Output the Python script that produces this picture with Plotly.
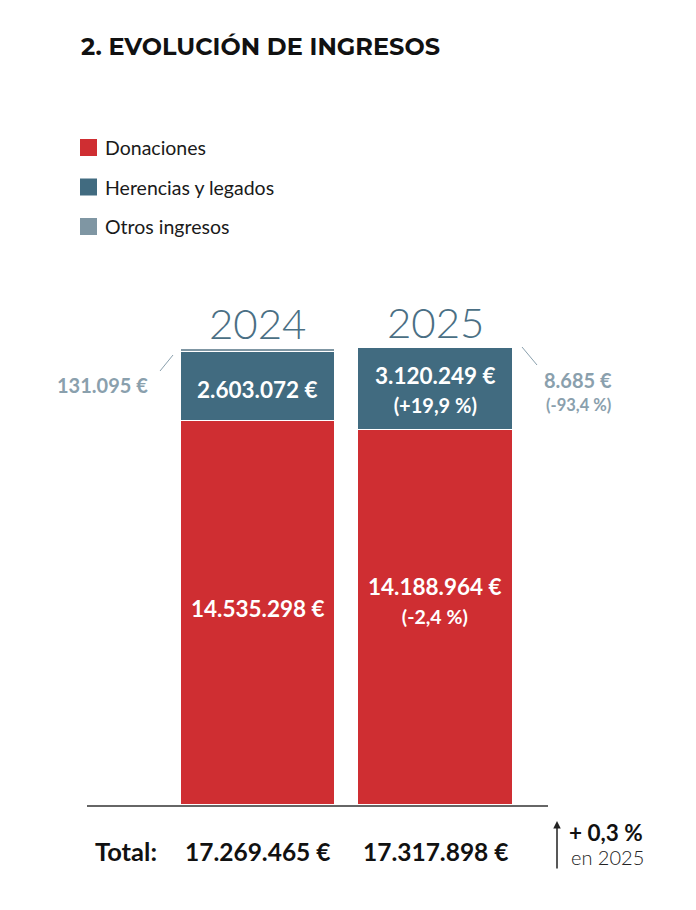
import plotly.graph_objects as go

years = ["2024", "2025"]
series_names = ["Donaciones", "Herencias y legados", "Otros ingresos"]
donaciones = [14535298, 14188964]
herencias = [2603072, 3120249]
otros = [131095, 8685]
colors = ["#cf2e32", "#416b80", "#7f96a3"]

totals = [d + h + o for d, h, o in zip(donaciones, herencias, otros)]


def fmt_eur(v):
    return f"{v:,.0f}".replace(",", ".") + " €"


def fmt_pct(a, b, sign=True):
    p = (b / a - 1) * 100
    s = f"{p:+.1f}" if sign else f"{p:.1f}"
    return s.replace(".", ",") + " %"


# page offset (body margin) and plot area in screen pixels
OFF = 8
FW, FH = 696 - 2 * OFF, 910 - 2 * OFF
L, R, T, B = 87, 548, 290, 805
W, H = R - L, B - T


def px(x):
    return (x - L) / W


def py(y):
    return (B - y) / H


FONT = "Source Sans Pro, Lato, Noto Sans, sans-serif"

fig = go.Figure()
for name, vals, col in zip(series_names, [donaciones, herencias, otros], colors):
    fig.add_trace(go.Bar(
        x=[0, 1], y=vals, name=name, marker=dict(color=col, line=dict(color="white", width=1)),
        width=0.868, showlegend=False, hoverinfo="skip",
    ))

ann = []


def A(**kw):
    kw.setdefault("showarrow", False)
    kw.setdefault("yanchor", "middle")
    kw.setdefault("xanchor", "center")
    ann.append(kw)


# inside labels
A(x=0, y=donaciones[0] / 2, xref="x", yref="y", text=f"<b>{fmt_eur(donaciones[0])}</b>",
  font=dict(size=22.5, color="white", family=FONT), yshift=5)
A(x=1, y=donaciones[1] / 2, xref="x", yref="y",
  text=f"<b>{fmt_eur(donaciones[1])}</b><br><span style='font-size:19.5px'><b>({fmt_pct(donaciones[0], donaciones[1], sign=False)})</b></span>",
  font=dict(size=22.5, color="white", family=FONT), yshift=17)
A(x=0, y=donaciones[0] + herencias[0] / 2, xref="x", yref="y", text=f"<b>{fmt_eur(herencias[0])}</b>",
  font=dict(size=22.5, color="white", family=FONT), yshift=-3)
A(x=1, y=donaciones[1] + herencias[1] / 2, xref="x", yref="y",
  text=f"<b>{fmt_eur(herencias[1])}</b><br><span style='font-size:20px'><b>({fmt_pct(herencias[0], herencias[1])})</b></span>",
  font=dict(size=22.5, color="white", family=FONT))
# year labels
for i in range(2):
    A(x=i, y=totals[i], xref="x", yref="y", text=years[i], yanchor="bottom",
      font=dict(size=42, color="#4a6f84", family=FONT, weight=300), yshift=-1)
# outside labels for otros
A(x=px(150), y=py(385), xref="paper", yref="paper", xanchor="right", text=f"<b>{fmt_eur(otros[0])}</b>",
  font=dict(size=20, color="#8aa0ad", family=FONT))
A(x=px(578), y=py(380), xref="paper", yref="paper", text=f"<b>{fmt_eur(otros[1])}</b>",
  font=dict(size=20, color="#8aa0ad", family=FONT))
A(x=px(578), y=py(405), xref="paper", yref="paper", text=f"<b>({fmt_pct(otros[0], otros[1], sign=False)})</b>",
  font=dict(size=16.5, color="#8aa0ad", family=FONT))
# title
A(x=px(79), y=py(47), xref="paper", yref="paper", xanchor="left", text="<b>2. EVOLUCIÓN DE INGRESOS</b>",
  font=dict(size=24, color="#111", family="Montserrat, Open Sans, sans-serif", weight=800))
# legend
shapes = []
for k, (name, col) in enumerate(zip(series_names, colors)):
    yc = 147.5 + k * 39.5
    shapes.append(dict(type="rect", xref="paper", yref="paper", x0=px(80), x1=px(97), y0=py(yc - 8.5), y1=py(yc + 8.5),
                       fillcolor=col, line=dict(width=0)))
    A(x=px(103), y=py(yc), xref="paper", yref="paper", xanchor="left", text=name,
      font=dict(size=19.5, color="#1a1a1a", family=FONT, weight=400))
# leader lines
shapes.append(dict(type="line", xref="paper", yref="paper", x0=px(160), y0=py(371), x1=px(173), y1=py(355),
                   line=dict(color="#8aa0ad", width=1)))
shapes.append(dict(type="line", xref="paper", yref="paper", x0=px(522), y0=py(347), x1=px(537), y1=py(365),
                   line=dict(color="#8aa0ad", width=1)))
# totals row
A(x=px(159), y=py(851), xref="paper", yref="paper", xanchor="right", text="<b>Total:</b>",
  font=dict(size=25.5, color="#111", family=FONT))
for i in range(2):
    A(x=i, y=py(851), xref="x", yref="paper", text=f"<b>{fmt_eur(totals[i])}</b>",
      font=dict(size=24.5, color="#111", family=FONT))
ann.append(dict(x=px(557), y=py(821), xref="paper", yref="paper", ax=0, ay=49, text="", showarrow=True,
                arrowhead=2, arrowsize=1, arrowwidth=1.5, arrowcolor="#222"))
A(x=px(567), y=py(832), xref="paper", yref="paper", xanchor="left",
  text="<b>+ " + fmt_pct(totals[0], totals[1], sign=False) + "</b>",
  font=dict(size=22.5, color="#111", family=FONT))
A(x=px(569), y=py(857), xref="paper", yref="paper", xanchor="left", text="en " + years[1],
  font=dict(size=20, color="#222", family=FONT, weight=300))

fig.update_layout(
    width=FW, height=FH,
    margin=dict(l=L - OFF, r=FW - (R - OFF), t=T - OFF, b=FH - (B - OFF)),
    paper_bgcolor="white", plot_bgcolor="white",
    barmode="stack", bargap=0,
    xaxis=dict(range=[-0.963, 1.634], showticklabels=False, ticks="", showgrid=False, zeroline=False,
               showline=True, linecolor="#666", linewidth=1.5, fixedrange=True),
    yaxis=dict(range=[0, 19.5e6], visible=False, fixedrange=True),
    annotations=ann, shapes=shapes, showlegend=False,
)

fig.write_html("out.html", config={"displayModeBar": False})
